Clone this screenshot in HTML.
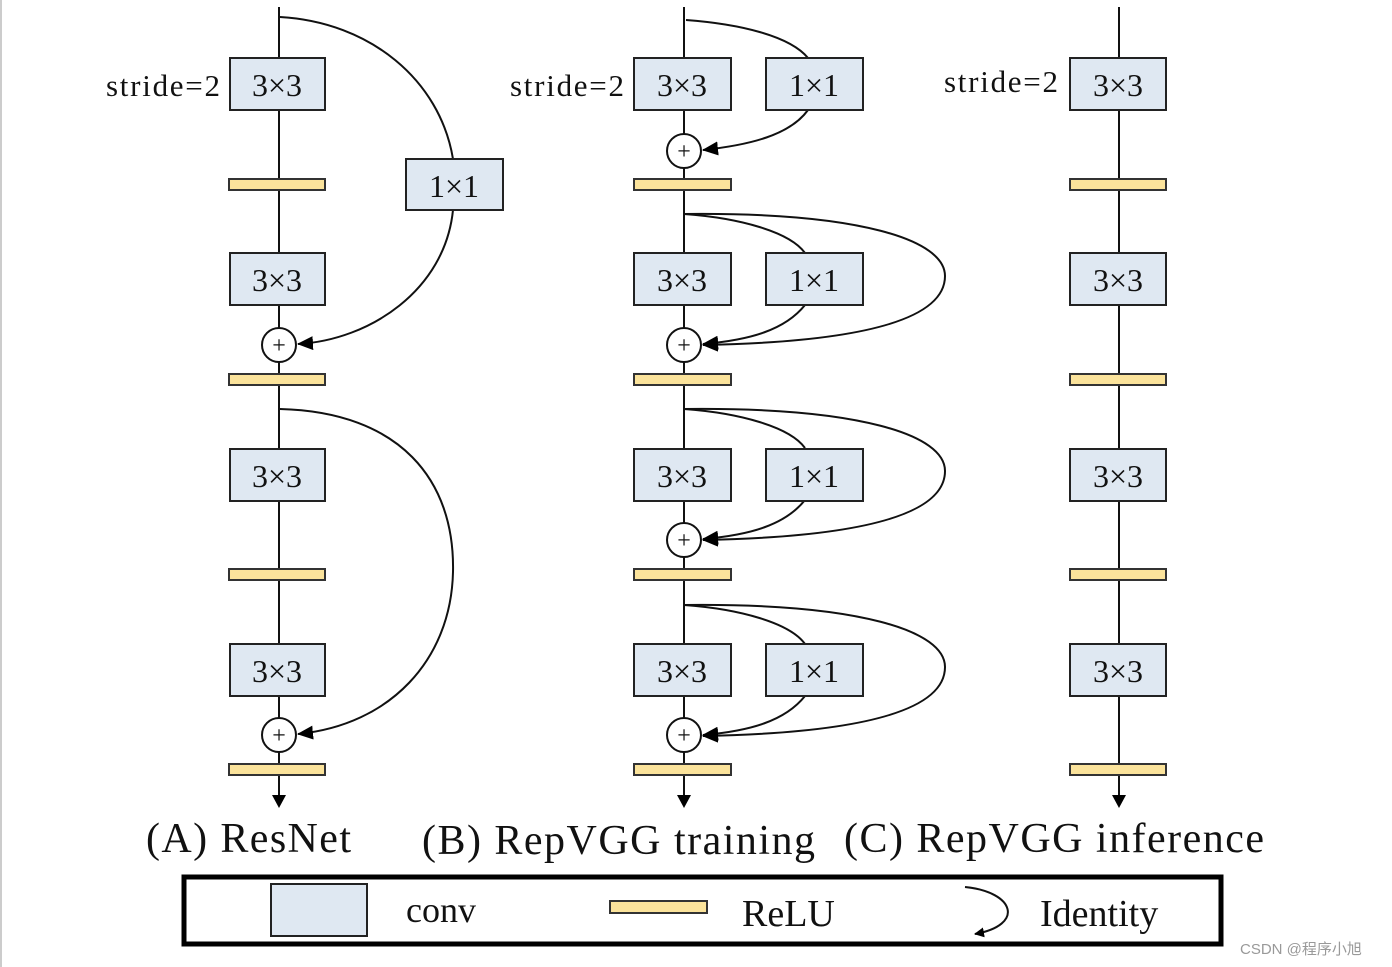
<!DOCTYPE html>
<html><head><meta charset="utf-8"><style>
html,body{margin:0;padding:0;background:#fff;}
svg{display:block;}
text{font-family:"Liberation Serif",serif;fill:#111;}
</style></head><body>
<svg width="1392" height="967" viewBox="0 0 1392 967" xmlns="http://www.w3.org/2000/svg">
<defs>
<marker id="ah" markerWidth="10" markerHeight="10" refX="9" refY="5" orient="auto" markerUnits="userSpaceOnUse" viewBox="0 0 10 10">
<path d="M0,0 L10,5 L0,10 z" fill="#000"/></marker>
<marker id="ah2" markerWidth="16" markerHeight="14" refX="15" refY="7" orient="auto" markerUnits="userSpaceOnUse" viewBox="0 0 16 14">
<path d="M0,0 L16,7 L0,14 z" fill="#000"/></marker>
</defs>
<rect x="0" y="0" width="2" height="967" fill="#ccc"/>
<g stroke="#111" stroke-width="2" fill="none">
<!-- main lines -->
<line x1="279" y1="7" x2="279" y2="800"/>
<line x1="684" y1="7" x2="684" y2="800"/>
<line x1="1119" y1="7" x2="1119" y2="800"/>
<!-- A arcs -->
<path d="M280,17 C370,22 440,80 453,159"/>
<path d="M453,210 C445,290 370,340 298,344" marker-end="url(#ah2)"/>
<path d="M280,409 C400,412 455,480 453,572 C451,660 390,725 298,734" marker-end="url(#ah2)"/>
<!-- B first -->
<path d="M686,20 C740,24 790,36 808,58"/>
<path d="M808,110 C790,135 750,145 703,150" marker-end="url(#ah2)"/>
</g>
<g stroke="#111" stroke-width="2" fill="none">
<!-- B repeated blocks -->
<g id="blk">
<path d="M684,214 C740,218 790,232 805,253"/>
<path d="M805,305 C785,330 750,340 703,344" marker-end="url(#ah2)"/>
<path d="M684,214 C860,212 945,240 945,276 C945,320 860,342 703,345" marker-end="url(#ah2)"/>
</g>
<use href="#blk" transform="translate(0,195)"/>
<use href="#blk" transform="translate(0,391)"/>
</g>
<!-- bottom arrows -->
<g fill="#000">
<path d="M272,795 L286,795 L279,808 z"/>
<path d="M677,795 L691,795 L684,808 z"/>
<path d="M1112,795 L1126,795 L1119,808 z"/>
</g>
<!-- boxes -->
<g fill="#dfe8f2" stroke="#222" stroke-width="2">
<rect x="230" y="58" width="95" height="52"/><rect x="230" y="253" width="95" height="52"/>
<rect x="230" y="449" width="95" height="52"/><rect x="230" y="644" width="95" height="52"/>
<rect x="406" y="159" width="97" height="51"/>
<rect x="634" y="58" width="97" height="52"/><rect x="634" y="253" width="97" height="52"/>
<rect x="634" y="449" width="97" height="52"/><rect x="634" y="644" width="97" height="52"/>
<rect x="766" y="58" width="97" height="52"/><rect x="766" y="253" width="97" height="52"/>
<rect x="766" y="449" width="97" height="52"/><rect x="766" y="644" width="97" height="52"/>
<rect x="1070" y="58" width="96" height="52"/><rect x="1070" y="253" width="96" height="52"/>
<rect x="1070" y="449" width="96" height="52"/><rect x="1070" y="644" width="96" height="52"/>
</g>
<!-- relu -->
<g fill="#fbe39b" stroke="#333" stroke-width="2">
<rect x="229" y="179" width="96" height="11"/><rect x="229" y="374" width="96" height="11"/>
<rect x="229" y="569" width="96" height="11"/><rect x="229" y="764" width="96" height="11"/>
<rect x="634" y="179" width="97" height="11"/><rect x="634" y="374" width="97" height="11"/>
<rect x="634" y="569" width="97" height="11"/><rect x="634" y="764" width="97" height="11"/>
<rect x="1070" y="179" width="96" height="11"/><rect x="1070" y="374" width="96" height="11"/>
<rect x="1070" y="569" width="96" height="11"/><rect x="1070" y="764" width="96" height="11"/>
</g>
<!-- plus circles -->
<g fill="#fff" stroke="#111" stroke-width="2">
<circle cx="279" cy="345" r="17"/><circle cx="279" cy="735" r="17"/>
<circle cx="684" cy="151" r="17"/><circle cx="684" cy="345" r="17"/>
<circle cx="684" cy="540" r="17"/><circle cx="684" cy="735" r="17"/>
</g>
<g font-size="24" text-anchor="middle">
<text x="279" y="353">+</text><text x="279" y="743">+</text>
<text x="684" y="159">+</text><text x="684" y="353">+</text>
<text x="684" y="548">+</text><text x="684" y="743">+</text>
</g>
<!-- box labels -->
<g font-size="32" text-anchor="middle">
<text x="277" y="96">3×3</text><text x="277" y="291">3×3</text>
<text x="277" y="487">3×3</text><text x="277" y="682">3×3</text>
<text x="454" y="197">1×1</text>
<text x="682" y="96">3×3</text><text x="682" y="291">3×3</text>
<text x="682" y="487">3×3</text><text x="682" y="682">3×3</text>
<text x="814" y="96">1×1</text><text x="814" y="291">1×1</text>
<text x="814" y="487">1×1</text><text x="814" y="682">1×1</text>
<text x="1118" y="96">3×3</text><text x="1118" y="291">3×3</text>
<text x="1118" y="487">3×3</text><text x="1118" y="682">3×3</text>
</g>
<g font-size="31">
<text x="106" y="96" textLength="114">stride=2</text>
<text x="510" y="96" textLength="114">stride=2</text>
<text x="944" y="92" textLength="114">stride=2</text>
</g>
<g font-size="42">
<text x="146" y="852" textLength="205">(A) ResNet</text>
<text x="422" y="854" textLength="393">(B) RepVGG training</text>
<text x="844" y="852" textLength="420">(C) RepVGG inference</text>
</g>
<!-- legend -->
<rect x="184" y="877" width="1037" height="67" fill="none" stroke="#000" stroke-width="5"/>
<rect x="271" y="884" width="96" height="52" fill="#dfe8f2" stroke="#222" stroke-width="2"/>
<text x="406" y="922" font-size="36">conv</text>
<rect x="610" y="901" width="97" height="12" fill="#fbe39b" stroke="#333" stroke-width="2"/>
<text x="742" y="926" font-size="38">ReLU</text>
<path d="M965,887 C1015,892 1025,925 975,934" fill="none" stroke="#111" stroke-width="2" marker-end="url(#ah)"/>
<text x="1040" y="926" font-size="38">Identity</text>
<text x="1240" y="954" font-size="15" style="font-family:'Liberation Sans','Noto Sans CJK SC',sans-serif;fill:#999">CSDN @程序小旭</text>
</svg>
</body></html>
